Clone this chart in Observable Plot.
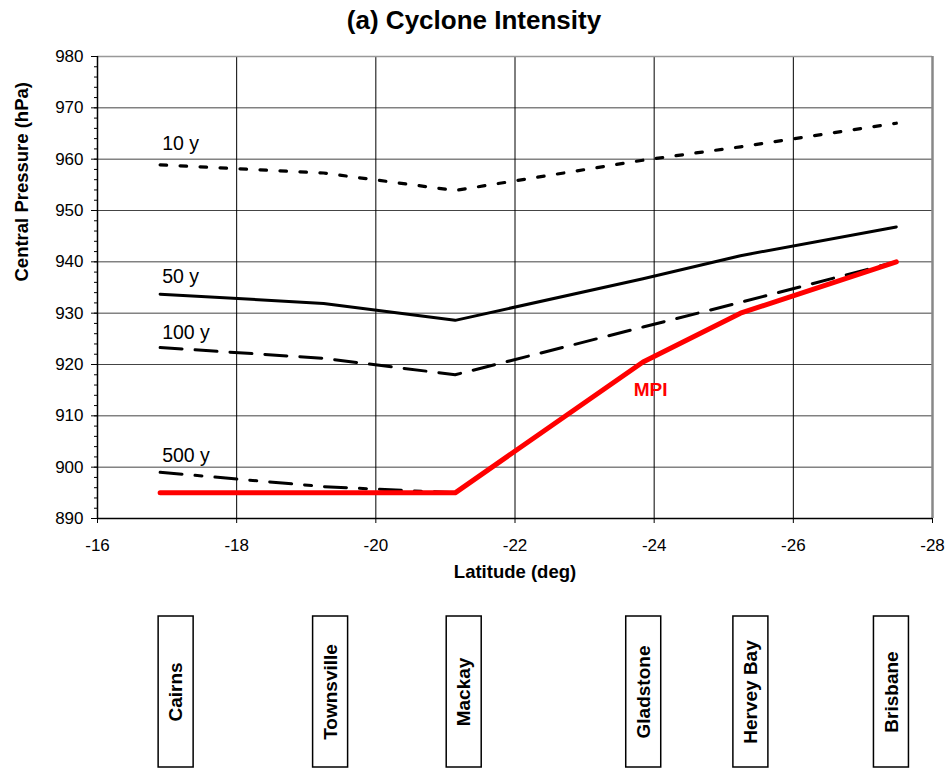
<!DOCTYPE html>
<html>
<head>
<meta charset="utf-8">
<script src="https://cdn.jsdelivr.net/npm/d3@7"></script>
<script src="https://cdn.jsdelivr.net/npm/@observablehq/plot@0.6"></script>
<style>
  html, body { margin: 0; padding: 0; background: white; }
  body { width: 948px; height: 769px; overflow: hidden; font-family: Arial, "Liberation Sans", sans-serif; }
  #title { height: 40px; line-height: 40px; text-align: center; font-weight: bold; font-size: 26px; color: #000; }
  svg { display: block; }
</style>
</head>
<body>
<div id="title">(a) Cyclone Intensity</div>
<div id="chart"></div>
<div id="cities"></div>
<script>
// ---- data ----
const cityNames = ["Cairns", "Townsville", "Mackay", "Gladstone", "Hervey Bay", "Brisbane"];
const cityLat   = [-16.9, -19.25, -21.14, -23.84, -25.24, -27.48];   // where the curves bend
const boxLat    = [-17.13, -19.35, -21.27, -23.85, -25.39, -27.41];  // centres of the town boxes
const p10  = [958.9, 957.3, 953.9, 959.8, 962.4, 967.0];
const p50  = [933.7, 931.9, 928.6, 936.7, 941.2, 946.8];
const p100 = [923.3, 921.2, 918.0, 927.3, 932.1, 940.0];
const p500 = [899.0, 896.2, 895.0, 920.5, 930.0, 940.0];
const mpi  = [895.0, 895.0, 895.0, 920.5, 930.0, 940.0];
const yTicks = [890, 900, 910, 920, 930, 940, 950, 960, 970, 980];
const yMinor = d3.range(890, 981, 2);
const xTicks = [-16, -18, -20, -22, -24, -26, -28];
const curveLabels = [
  {text: "10 y",  lat: -16.9, p: 963.0},
  {text: "50 y",  lat: -16.9, p: 937.0},
  {text: "100 y", lat: -16.9, p: 926.2},
  {text: "500 y", lat: -16.9, p: 902.3}
];
const mpiLabel = [{text: "MPI", lat: -23.95, p: 915.1}];

const font = 'Arial, "Liberation Sans", sans-serif';
const series = (vals) => cityLat.map((lat, i) => ({lat, p: vals[i]}));

const chart = Plot.plot({
  width: 948,
  height: 553,
  marginLeft: 97,
  marginRight: 16,
  marginTop: 16,
  marginBottom: 75,
  style: {fontFamily: font, fontSize: "17px", background: "white", color: "black"},
  x: {domain: [-16, -28], axis: null, label: null},
  y: {domain: [890, 980], axis: null, label: null},
  marks: [
    Plot.gridY(yTicks, {stroke: "#444", strokeOpacity: 1, strokeWidth: 1}),
    Plot.gridX(xTicks, {stroke: "#000", strokeOpacity: 1, strokeWidth: 1}),
    Plot.ruleY([980], {stroke: "#999", strokeWidth: 1.5}),
    Plot.ruleX([-28], {stroke: "#888", strokeWidth: 2.5}),
    Plot.ruleX([-16], {stroke: "#000", strokeWidth: 1.5}),
    Plot.ruleY([890], {stroke: "#000", strokeWidth: 1.5}),
    Plot.axisY(yMinor, {tickSize: 3, tickFormat: () => "", label: null}),
    Plot.axisY(yTicks, {tickSize: 6, tickPadding: 8, fontSize: 17, tickFormat: d => String(d), label: null}),
    Plot.axisX(xTicks, {tickSize: 5, tickPadding: 15, fontSize: 17, tickFormat: d => String(d), label: null}),
    Plot.line(series(p10),  {x: "lat", y: "p", stroke: "#000", strokeWidth: 3.2, strokeDasharray: "6.5,13.5"}),
    Plot.line(series(p50),  {x: "lat", y: "p", stroke: "#000", strokeWidth: 3}),
    Plot.line(series(p100), {x: "lat", y: "p", stroke: "#000", strokeWidth: 3, strokeDasharray: "22,13"}),
    Plot.line(series(p500), {x: "lat", y: "p", stroke: "#000", strokeWidth: 3, strokeDasharray: "22,13,7,13"}),
    Plot.line(series(mpi),  {x: "lat", y: "p", stroke: "#ff0000", strokeWidth: 5, strokeLinecap: "round", strokeLinejoin: "round"}),
    Plot.text(curveLabels, {x: "lat", y: "p", text: "text", textAnchor: "start", dx: 2, fontSize: 19.5, fill: "#000"}),
    Plot.text(mpiLabel, {x: "lat", y: "p", text: "text", fontSize: 19, fontWeight: "bold", fill: "#ff0000"}),
    Plot.text(["Central Pressure (hPa)"], {frameAnchor: "left", dx: -75, dy: -6, rotate: -90, fontSize: 18.5, fontWeight: "bold", fill: "#000"}),
    Plot.text(["Latitude (deg)"], {frameAnchor: "bottom", dy: 59, fontSize: 18.5, fontWeight: "bold", fill: "#000"})
  ]
});
document.getElementById("chart").appendChild(chart);

const boxes = cityNames.map((name, i) => ({name, lat: boxLat[i]}));
const half = 0.2515; // half box width in degrees
const cityPlot = Plot.plot({
  width: 948,
  height: 176,
  marginLeft: 97,
  marginRight: 16,
  marginTop: 23,
  marginBottom: 2,
  style: {fontFamily: font, background: "white", color: "black"},
  x: {domain: [-16, -28], axis: null},
  y: {domain: [0, 1], axis: null},
  marks: [
    Plot.rect(boxes, {x1: d => d.lat + half, x2: d => d.lat - half, y1: 0, y2: 1, fill: "white", stroke: "#000", strokeWidth: 1.5}),
    Plot.text(boxes, {x: "lat", y: 0.5, text: "name", rotate: -90, fontSize: 19, fontWeight: "bold", fill: "#000"})
  ]
});
document.getElementById("cities").appendChild(cityPlot);
</script>
</body>
</html>
